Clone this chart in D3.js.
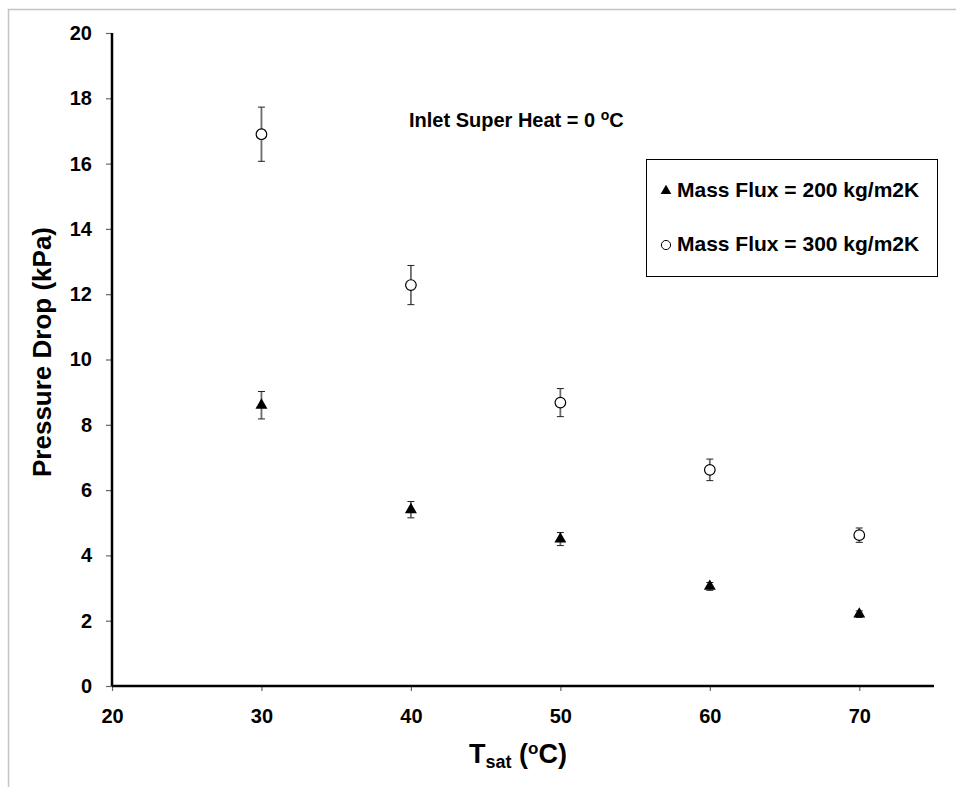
<!DOCTYPE html>
<html>
<head>
<meta charset="utf-8">
<script src="https://cdn.jsdelivr.net/npm/d3@7"></script>
<style>
    body { margin: 0; background: #fff; }
    text { font-family: "Liberation Sans", Arial, sans-serif; font-weight: bold; fill: #000; }
</style>
</head>
<body>
<div id="chart"></div>
<script>
    // saturation temperatures (x)
    var tSat = [30, 40, 50, 60, 70];
    // mass flux 200 kg/m2K - triangles
    var dp200 = [8.6, 5.4, 4.5, 3.05, 2.2];
    var err200 = [0.42, 0.25, 0.2, 0.12, 0.1];
    // mass flux 300 kg/m2K - open circles
    var dp300 = [16.9, 12.28, 8.68, 6.62, 4.62];
    var err300 = [0.83, 0.6, 0.43, 0.33, 0.22];

    var xTicks = [20, 30, 40, 50, 60, 70];
    var yTicks = [0, 2, 4, 6, 8, 10, 12, 14, 16, 18, 20];
    var seriesNames = ["Mass Flux = 200 kg/m2K", "Mass Flux = 300 kg/m2K"];

    (function () {
        var width = 956;
        var height = 787;
        var plotL = 112, plotR = 934, plotT = 33, plotB = 686;

        var svg = d3.select("#chart").append("svg")
            .attr("width", width)
            .attr("height", height);

        // outer chart frame (runs off the right/bottom edge)
        svg.append("rect")
            .attr("x", 8.5)
            .attr("y", 9.5)
            .attr("width", 1000)
            .attr("height", 1000)
            .attr("fill", "none")
            .attr("stroke", "#c4c4c4")
            .attr("stroke-width", 1.5);

        var x = d3.scaleLinear().domain([20, 75]).range([plotL, plotR]);
        var y = d3.scaleLinear().domain([0, 20]).range([plotB, plotT]);

        var xAxis = d3.axisBottom(x).tickValues(xTicks).tickSize(5).tickPadding(18).tickFormat(d3.format("d"));
        var yAxis = d3.axisLeft(y).tickValues(yTicks).tickSize(6).tickPadding(14).tickFormat(d3.format("d"));

        var gx = svg.append("g")
            .attr("transform", "translate(0," + plotB + ")")
            .call(xAxis);
        var gy = svg.append("g")
            .attr("transform", "translate(" + plotL + ",0)")
            .call(yAxis);

        [gx, gy].forEach(function (g) {
            g.selectAll(".tick line").attr("stroke", "#666").attr("stroke-width", 1.2);
            g.selectAll(".tick text")
                .style("font-family", "'Liberation Sans', Arial, sans-serif")
                .style("font-weight", "bold")
                .style("font-size", "20px")
                .attr("fill", "#000");
            g.select(".domain").attr("stroke", "#000").attr("stroke-width", 2.5).raise();
        });
        gx.select(".domain").attr("d", "M" + plotL + ",0H" + plotR);
        gy.select(".domain").attr("d", "M0," + plotB + "V" + plotT);

        // error bars
        function errorBars(vals, errs) {
            var g = svg.append("g");
            var data = tSat.map(function (t, i) { return { t: t, v: vals[i], e: errs[i] }; });
            g.selectAll(".ebar").data(data).enter().append("line")
                .attr("x1", function (d) { return x(d.t); })
                .attr("x2", function (d) { return x(d.t); })
                .attr("y1", function (d) { return y(d.v + d.e); })
                .attr("y2", function (d) { return y(d.v - d.e); })
                .attr("stroke", "#6b6b6b")
                .attr("stroke-width", 1.8);
            [1, -1].forEach(function (s) {
                g.selectAll(".cap").data(data).enter().append("line")
                    .attr("x1", function (d) { return x(d.t) - 3.5; })
                    .attr("x2", function (d) { return x(d.t) + 3.5; })
                    .attr("y1", function (d) { return y(d.v + s * d.e); })
                    .attr("y2", function (d) { return y(d.v + s * d.e); })
                    .attr("stroke", "#222")
                    .attr("stroke-width", 1);
            });
        }
        errorBars(dp200, err200);
        errorBars(dp300, err300);

        var triangle = d3.symbol().type(d3.symbolTriangle).size(62);

        svg.append("g").selectAll("path")
            .data(tSat)
            .enter().append("path")
            .attr("d", triangle)
            .attr("transform", function (d, i) { return "translate(" + x(d) + "," + y(dp200[i]) + ")"; })
            .attr("fill", "#000");

        svg.append("g").selectAll("circle")
            .data(tSat)
            .enter().append("circle")
            .attr("cx", function (d) { return x(d); })
            .attr("cy", function (d, i) { return y(dp300[i]); })
            .attr("r", 5.3)
            .attr("fill", "#fff")
            .attr("stroke", "#000")
            .attr("stroke-width", 1.2);

        // annotation
        var note = svg.append("text")
            .attr("x", 409)
            .attr("y", 127)
            .style("font-size", "20px");
        note.append("tspan").text("Inlet Super Heat = 0 ");
        note.append("tspan").text("o").style("font-size", "14px").attr("dy", -7);
        note.append("tspan").text("C").attr("dy", 7);

        // legend
        var legend = svg.append("g");
        legend.append("rect")
            .attr("x", 646.5)
            .attr("y", 159.5)
            .attr("width", 291)
            .attr("height", 117)
            .attr("fill", "#fff")
            .attr("stroke", "#000")
            .attr("stroke-width", 1);
        legend.append("path")
            .attr("d", d3.symbol().type(d3.symbolTriangle).size(50))
            .attr("transform", "translate(666,191)")
            .attr("fill", "#000");
        legend.append("circle")
            .attr("cx", 666)
            .attr("cy", 245)
            .attr("r", 4.6)
            .attr("fill", "#fff")
            .attr("stroke", "#000")
            .attr("stroke-width", 1);
        legend.selectAll(".lt")
            .data(seriesNames)
            .enter().append("text")
            .attr("x", 677)
            .attr("y", function (d, i) { return 197 + i * 54; })
            .style("font-size", "21px")
            .text(function (d) { return d; });

        // axis titles
        svg.append("text")
            .attr("transform", "translate(51,352) rotate(-90)")
            .attr("text-anchor", "middle")
            .style("font-size", "26px")
            .text("Pressure Drop (kPa)");

        var xt = svg.append("text")
            .attr("x", 469)
            .attr("y", 763)
            .style("font-size", "27px");
        xt.append("tspan").text("T");
        xt.append("tspan").text("sat").style("font-size", "18px").attr("dy", 5);
        xt.append("tspan").text(" (").attr("dy", -5);
        xt.append("tspan").text("o").style("font-size", "17px").attr("dy", -9);
        xt.append("tspan").text("C)").attr("dy", 9);
    })();
</script>
</body>
</html>
